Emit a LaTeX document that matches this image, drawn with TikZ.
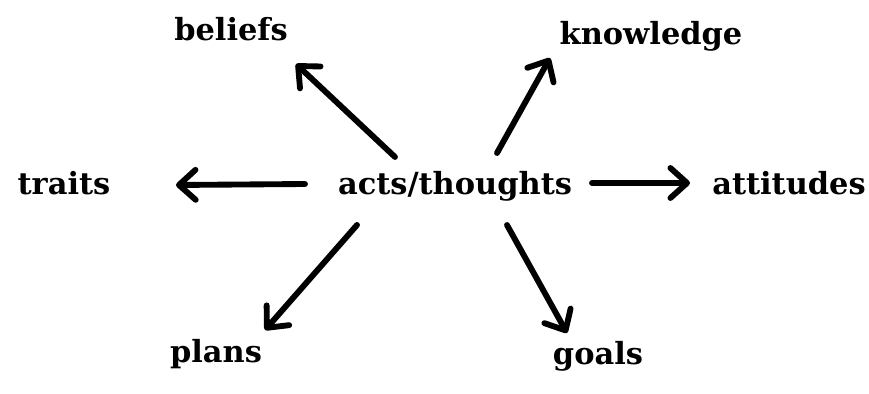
\documentclass[tikz,border=0pt]{standalone}
\usepackage{fontspec}
\setmainfont{DejaVu Serif}
\usetikzlibrary{arrows.meta}
\tikzset{
  lbl/.style={anchor=base, inner sep=0pt, font=\fontsize{26}{30}\selectfont\bfseries},
  arr/.style={line width=5pt, line cap=round, -{Straight Barb[length=5mm,width=9mm,line cap=round,round]}}
}
\begin{document}
\begin{tikzpicture}[x=0.03cm,y=-0.03cm]
\useasboundingbox (0,0) rectangle (869,394);
\node[lbl] (center) at (455,194) {acts/thoughts};
\node[lbl] (beliefs) at (231,41) {beliefs};
\node[lbl] (knowledge) at (651,45) {knowledge};
\node[lbl] (traits) at (64,194) {traits};
\node[lbl] (attitudes) at (789,194) {attitudes};
\node[lbl] (plans) at (216,362) {plans};
\node[lbl] (goals) at (598,364) {goals};
\coordinate (b0) at (395,157); \coordinate (b1) at (296,64);
\coordinate (k0) at (497,153); \coordinate (k1) at (550,58);
\coordinate (t0) at (305,184); \coordinate (t1) at (176,185);
\coordinate (a0) at (592,183); \coordinate (a1) at (690,183);
\coordinate (p0) at (357,225); \coordinate (p1) at (265,330);
\coordinate (g0) at (507,225); \coordinate (g1) at (567,333);
\draw[arr] (b0) -- (b1);
\draw[arr] (k0) -- (k1);
\draw[arr] (t0) -- (t1);
\draw[arr] (a0) -- (a1);
\draw[arr] (p0) -- (p1);
\draw[arr] (g0) -- (g1);
\end{tikzpicture}
\end{document}
